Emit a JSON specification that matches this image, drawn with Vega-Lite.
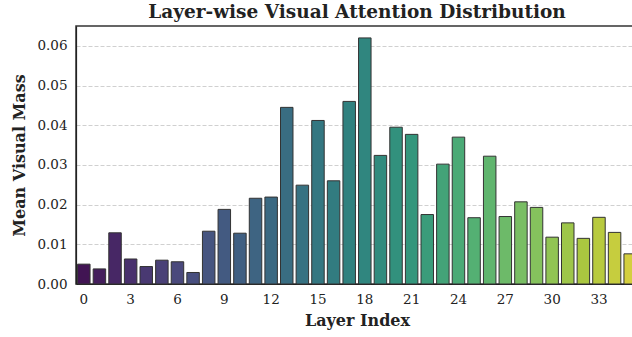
{
  "$schema": "https://vega.github.io/schema/vega-lite/v6.json",
  "autosize": {"type": "none"},
  "padding": {"left": 76, "top": 26, "right": 0, "bottom": 53},
  "width": 562,
  "height": 258,
  "title": {"text": "Layer-wise Visual Attention Distribution", "font": "DejaVu Serif", "fontSize": 18.5, "fontWeight": "bold", "color": "#222", "anchor": "middle", "offset": 5},
  "data": {"values": [
    {"layer": 0, "mass": 0.0050}, {"layer": 1, "mass": 0.0038}, {"layer": 2, "mass": 0.0129},
    {"layer": 3, "mass": 0.0063}, {"layer": 4, "mass": 0.0044}, {"layer": 5, "mass": 0.0060},
    {"layer": 6, "mass": 0.0056}, {"layer": 7, "mass": 0.0029}, {"layer": 8, "mass": 0.0133},
    {"layer": 9, "mass": 0.0188}, {"layer": 10, "mass": 0.0128}, {"layer": 11, "mass": 0.0216},
    {"layer": 12, "mass": 0.0219}, {"layer": 13, "mass": 0.0445}, {"layer": 14, "mass": 0.0249},
    {"layer": 15, "mass": 0.0412}, {"layer": 16, "mass": 0.0260}, {"layer": 17, "mass": 0.0460},
    {"layer": 18, "mass": 0.0620}, {"layer": 19, "mass": 0.0324}, {"layer": 20, "mass": 0.0395},
    {"layer": 21, "mass": 0.0377}, {"layer": 22, "mass": 0.0175}, {"layer": 23, "mass": 0.0302},
    {"layer": 24, "mass": 0.0370}, {"layer": 25, "mass": 0.0167}, {"layer": 26, "mass": 0.0322},
    {"layer": 27, "mass": 0.0170}, {"layer": 28, "mass": 0.0207}, {"layer": 29, "mass": 0.0193},
    {"layer": 30, "mass": 0.0118}, {"layer": 31, "mass": 0.0154}, {"layer": 32, "mass": 0.0115},
    {"layer": 33, "mass": 0.0168}, {"layer": 34, "mass": 0.0130}, {"layer": 35, "mass": 0.0076}
  ]},
  "mark": {"type": "bar", "stroke": "#333333", "strokeWidth": 1},
  "encoding": {
    "x": {"field": "layer", "type": "ordinal", "sort": "ascending",
      "scale": {"paddingInner": 0.2, "paddingOuter": 0.1},
      "axis": {"title": "Layer Index", "values": [0,3,6,9,12,15,18,21,24,27,30,33], "labelAngle": 0, "ticks": false, "labelPadding": 8, "titlePadding": 7}},
    "y": {"field": "mass", "type": "quantitative",
      "scale": {"domain": [0, 0.065], "nice": false},
      "axis": {"title": "Mean Visual Mass", "values": [0, 0.01, 0.02, 0.03, 0.04, 0.05, 0.06], "format": ".2f", "ticks": false, "labelPadding": 9, "titlePadding": 9, "grid": true}},
    "color": {"field": "layer", "type": "quantitative",
      "scale": {"domain": [-1, 2.7, 6.4, 10.1, 13.8, 17.5, 21.2, 24.9, 28.6, 32.3, 36],
        "range": ["#3e0b4a", "#492e6b", "#4a4c7e", "#406082", "#377182", "#2f837f", "#33977c", "#53b074", "#80c161", "#aec83d", "#e2d240"],
        "interpolate": "rgb"},
      "legend": null}
  },
  "config": {
    "font": "DejaVu Serif",
    "view": {"stroke": "#333333", "strokeWidth": 1.5},
    "axis": {"labelFont": "DejaVu Serif", "labelFontSize": 13.5, "labelColor": "#222", "titleFont": "DejaVu Serif", "titleFontSize": 16, "titleFontWeight": "bold", "titleColor": "#222", "domainColor": "#222", "domainWidth": 1.2, "gridColor": "#c4c4c4", "gridDash": [4, 2], "gridWidth": 0.8},
    "axisX": {"grid": false}
  }
}
